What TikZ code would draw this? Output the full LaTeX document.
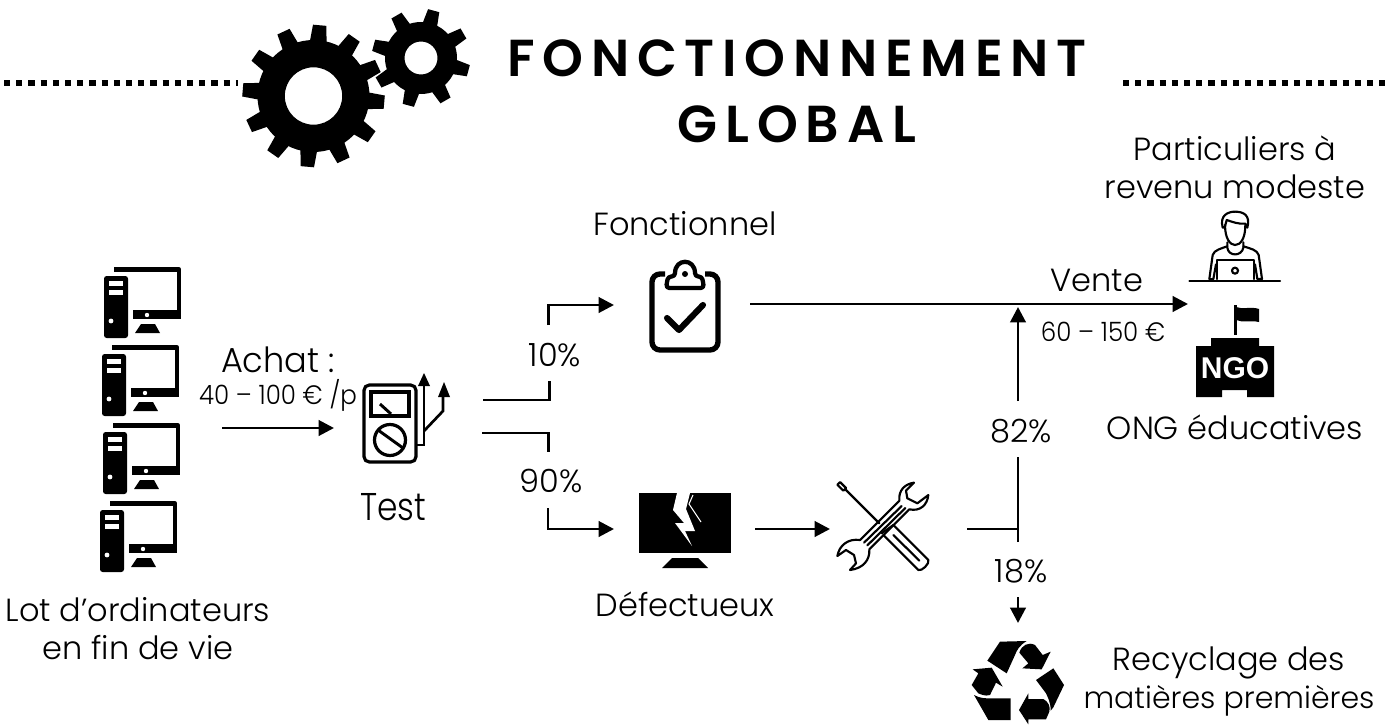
\documentclass[tikz,border=0pt]{standalone}
\usepackage{fontspec}
\usetikzlibrary{arrows.meta}
\setmainfont{Poppins Light}
\newfontfamily\titlefont{Poppins SemiBold}[LetterSpace=15]
\newfontfamily\ngofont{Liberation Sans Bold}
\tikzset{
  flow/.style={line width=2.2pt,draw=black},
  arr/.style={flow,-{Triangle[length=11.5pt,width=11.5pt]}},
  big/.style={font=\fontsize{24}{28.5}\selectfont,inner sep=0pt,align=center},
  small/.style={font=\addfontfeature{FakeStretch=0.92}\fontsize{20}{24}\selectfont,inner sep=0pt,align=center},
  pct/.style={font=\fontsize{24}{28}\selectfont,inner sep=0pt},
  ttl/.style={font=\titlefont\fontsize{39}{46}\selectfont,inner sep=0pt},
  dots/.style={line width=4.5pt,dash pattern=on 4.6pt off 4.55pt},
  thin/.style={line width=1.6pt,line join=round,line cap=round},
}
% x y body tip n offset halftip
\newcommand{\gearfig}[7]{%
  \foreach \k in {1,...,#5}{
    \pgfmathsetmacro{\ang}{#6+360/#5*\k}
    \fill[rotate around={\ang:(#1,#2)}] (#1+#3-4,#2-#7-2) -- (#1+#4,#2-#7) -- (#1+#4,#2+#7) -- (#1+#3-4,#2+#7+2) -- cycle;
  }
}
\newcommand{\pcfig}[2]{%
  \begin{scope}[shift={(#1,#2)}]
    \draw[line width=3.6pt,line join=round] (10,3.5) -- (75,3.5) -- (75,49) -- (30,49);
    \fill (29,44) rectangle (77,53);
    \fill[rounded corners=2pt] (0,10) rectangle (24,72);
    \fill[white] (5,15) rectangle (19,19.5);
    \fill[white] (5,24) rectangle (19,28.5);
    \fill[white] (7,55) circle (2.4);
    \fill[white] (43,49) circle (2.2);
    \fill (37,58) -- (51,58) -- (56,67) -- (31,67) -- cycle;
  \end{scope}
}
\begin{document}
\begin{tikzpicture}[x=0.75pt,y=-0.75pt]
\useasboundingbox (0,0) rectangle (1387,724);
% dotted rules
\coordinate (dl1) at (4,83); \coordinate (dl2) at (238,83);
\coordinate (dr1) at (1123,83); \coordinate (dr2) at (1387,83);
\draw[dots] (dl1) -- (dl2);
\draw[dots] (dr1) -- (dr2);
% gears
\gearfig{313.5}{96}{55}{71}{12}{-5}{6.7}
\fill[even odd rule] (313.5,96) circle (56) (313.5,96) circle (28.7);
\gearfig{421}{58}{35}{49}{8}{-15}{5.8}
\fill[even odd rule] (421,58) circle (36) (421,58) circle (16.5);
% title
\node[ttl] (t1) at (797,58.5) {FONCTIONNEMENT};
\node[ttl] (t2) at (797,124) {GLOBAL};
% computers
\pcfig{104}{266}
\pcfig{102}{344}
\pcfig{103}{422}
\pcfig{100}{500}
\node[big] (lot) at (138,629) {Lot d’ordinateurs\\en fin de vie};
% multimeter
\draw[line width=2.4pt,rounded corners=4pt] (364,385) rectangle (416,462);
\draw[line width=2.4pt] (371,392) rectangle (409,416);
\draw[line width=2.2pt] (380,404) -- (391,414);
\draw[line width=2.4pt] (390,440) circle (15.5);
\draw[line width=2.2pt] (378,430) -- (403,448);
\draw[line width=2pt] (417,445) -- (424,445) -- (424,384);
\draw[line width=2pt] (424,431) -- (443,411) -- (443,396);
\fill (424,373) -- (430,386) -- (418,386) -- cycle;
\fill (444,382) -- (450,397) -- (438,397) -- cycle;
\node[font=\addfontfeature{FakeStretch=0.85}\fontsize{29}{34}\selectfont,inner sep=0pt] (test) at (393,507) {Test};
\node[font=\addfontfeature{FakeStretch=0.97}\fontsize{26}{30}\selectfont,inner sep=0pt] (achat) at (278,360) {Achat :};
\node[small] (prix) at (278,395) {40 – 100 € /p};
% clipboard
\draw[line width=4pt,rounded corners=6pt] (665,274) -- (652,274) -- (652,350) -- (718,350) -- (718,274) -- (705,274);
\draw[line width=3.2pt,line join=round,rounded corners=2.5pt] (666,288) -- (668,276.5) -- (675,276.5) .. controls (675,258) and (695,258) .. (695,276.5) -- (702,276.5) -- (704,288) -- cycle;
\fill (685,274) circle (3);
\draw[line width=4.6pt,line cap=round,line join=round] (667,318) -- (679,330) -- (703,305);
\node[big] (fonc) at (685,224) {Fonctionnel};
% broken screen
\fill (639,493) rectangle (731,553);
\fill (672,558) -- (698,558) -- (708,568) -- (662,568) -- cycle;
\fill[white] (677,493) -- (673,510) -- (684,523) -- (675,523) -- (692,546) -- (685,531) -- (695,531) -- (686,509) -- (690,493) -- cycle;
\draw[white,line width=0.8pt] (693,495) -- (689,504) -- (701,522);
\node[big] (def) at (685,604) {Défectueux};
% tools
\begin{scope}[shift={(830,470)},x=0.25pt,y=-0.25pt]
  \draw[thin] (30,36) -- (22,44) -- (40,62) -- (48,54) -- cycle;
  \draw[thin] (46,58) -- (148,160);
  \draw[thin] (155,190) -- (190,165) -- (295,270) .. controls (300,280) and (275,305) .. (265,300) -- (160,195);
  \draw[thin] (190,195) -- (268,272);
  \draw[thin] (208,92) .. controls (205,60) and (225,42) .. (252,38) -- (228,62) -- (232,85) -- (262,100) -- (295,75) .. controls (292,105) and (270,125) .. (238,118) -- (118,238) .. controls (120,270) and (100,295) .. (60,300) -- (78,280) -- (72,255) -- (48,240) -- (22,258) .. controls (28,225) and (55,205) .. (90,210) -- cycle;
  \draw[thin] (215,108) -- (102,218);
  \draw[thin] (226,114) -- (112,226);
\end{scope}
% user
\begin{scope}[shift={(1180,205)},x=0.25pt,y=-0.25pt]
  \draw[thin] (28,228) -- (300,228);
  \draw[thin] (112,222) -- (112,165) -- (222,165) -- (222,222);
  \draw[thin] (165,197) circle (9);
  \draw[thin] (128,68) .. controls (118,30) and (145,20) .. (165,20) .. controls (190,20) and (212,30) .. (202,68) -- (196,56) .. controls (175,58) and (155,50) .. (140,45) -- (134,68) -- cycle;
  \draw[thin] (135,60) .. controls (135,100) and (150,120) .. (165,120) .. controls (182,120) and (196,100) .. (196,60);
  \draw[thin] (142,112) -- (142,128) .. controls (145,155) and (185,155) .. (190,128) -- (190,112);
  \draw[thin] (88,222) -- (98,150) .. controls (102,135) and (125,130) .. (142,124);
  \draw[thin] (190,124) .. controls (210,130) and (232,135) .. (236,150) -- (246,222);
  \draw[thin] (88,222) -- (100,222);
  \draw[thin] (100,222) -- (108,178);
  \draw[thin] (246,222) -- (232,222) -- (225,178);
\end{scope}
% NGO
\fill (1196,346) -- (1211,346) -- (1211,338) -- (1259,338) -- (1259,346) -- (1274,346) -- (1274,397) -- (1247,397) -- (1247,390) -- (1222,390) -- (1222,397) -- (1196,397) -- cycle;
\fill (1233.5,305) rectangle (1236.5,335);
\fill (1236,307) .. controls (1243,310) and (1250,306) .. (1259,309) -- (1259,322) .. controls (1250,320) and (1243,323) .. (1236,320) -- cycle;
\node[text=white,font=\ngofont\fontsize{22.5}{24}\selectfont,inner sep=0pt] (ngo) at (1235,368) {NGO};
\node[big] (part) at (1235,167) {Particuliers à\\revenu modeste};
\node[big] (ong) at (1235,427) {ONG éducatives};
% recycling
\begin{scope}[shift={(960,630)},x=0.25pt,y=-0.25pt]
  \fill (82,92) -- (120,35) -- (200,33) .. controls (180,45) and (170,60) .. (165,75) -- (140,130) -- cycle;
  \fill (178,68) .. controls (185,45) and (205,35) .. (225,45) -- (248,75) -- (272,65) -- (245,118) -- (187,115) -- (205,100) -- cycle;
  \fill (38,118) -- (95,113) -- (128,170) -- (108,158) -- (90,195) .. controls (75,200) and (60,192) .. (55,190) -- (35,165) -- (55,130) -- cycle;
  \fill (42,195) .. controls (60,205) and (75,205) .. (90,205) -- (152,205) -- (152,270) -- (85,270) -- cycle;
  \fill (228,150) -- (280,115) -- (312,165) -- (280,232) -- (272,242) .. controls (272,215) and (262,200) .. (258,190) -- cycle;
  \fill (205,190) -- (205,207) -- (250,207) .. controls (265,215) and (272,230) .. (268,245) -- (258,268) -- (205,268) -- (205,283) -- (177,240) -- cycle;
\end{scope}
\node[big] (recy) at (1229,682) {Recyclage des\\{\fontsize{22.5}{26.5}\selectfont matières premières}};
% labels on the connectors
\node[pct] (p10) at (555,355) {10\%};
\node[pct] (p90) at (551,481) {90\%};
\node[pct] (p82) at (1021,431) {82\%};
\node[pct] (p18) at (1021,571) {18\%};
\node[big] (vente) at (1097,280) {Vente};
\node[small] (pv) at (1103,332) {60 – 150 €};
% connector ends
\coordinate (a1) at (222,428); \coordinate (a2) at (334,428);
\coordinate (b1) at (483,400); \coordinate (b2) at (549.5,381);
\coordinate (c1) at (548.5,325); \coordinate (c2) at (614,305);
\coordinate (d1) at (482,433); \coordinate (d2) at (548.5,452);
\coordinate (e1) at (548,508); \coordinate (e2) at (614,529);
\coordinate (f1) at (755,529); \coordinate (f2) at (830,529);
\coordinate (g1) at (750,304); \coordinate (g2) at (1188,304);
\coordinate (h1) at (967,529); \coordinate (h2) at (1018,529);
\coordinate (i1) at (1018,542); \coordinate (i2) at (1018,457);
\coordinate (j1) at (1018,401); \coordinate (j2) at (1018,307);
\coordinate (k1) at (1018,597); \coordinate (k2) at (1018,623);
\draw[arr] (a1) -- (a2);
\draw[flow] (b1) -| (b2);
\draw[arr] (c1) |- (c2);
\draw[flow] (d1) -| (d2);
\draw[arr] (e1) |- (e2);
\draw[arr] (f1) -- (f2);
\draw[arr] (g1) -- (g2);
\draw[flow] (h1) -- (h2);
\draw[flow] (i1) -- (i2);
\draw[arr] (j1) -- (j2);
\draw[arr] (k1) -- (k2);
\end{tikzpicture}
\end{document}
